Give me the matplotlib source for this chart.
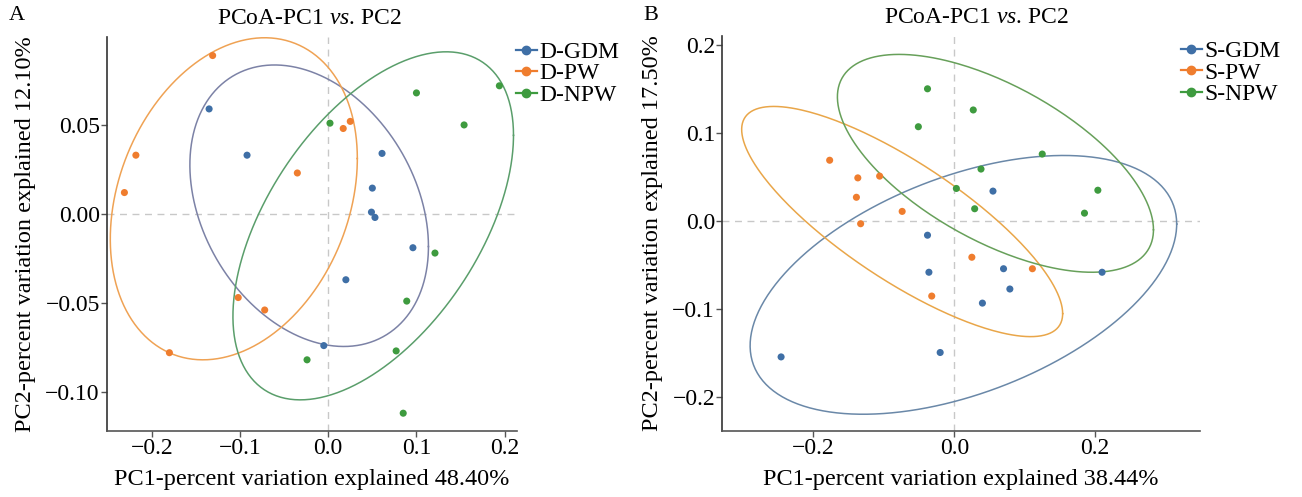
import numpy as np
import matplotlib.pyplot as plt
from matplotlib.lines import Line2D

plt.rcParams['font.family'] = 'Liberation Serif'
plt.rcParams['mathtext.fontset'] = 'custom'
plt.rcParams['mathtext.rm'] = 'Liberation Serif'
plt.rcParams['mathtext.it'] = 'Liberation Serif:italic'

# PCoA coordinates, panel A
d_gdm_x = [-0.135, -0.092, 0.061, 0.050, 0.049, 0.053, 0.096, 0.020, -0.005]
d_gdm_y = [0.059, 0.033, 0.034, 0.0145, 0.001, -0.002, -0.019, -0.037, -0.074]
d_pw_x = [-0.131, -0.218, -0.231, -0.035, 0.017, 0.025, -0.102, -0.072, -0.180]
d_pw_y = [0.089, 0.033, 0.012, 0.023, 0.048, 0.052, -0.047, -0.054, -0.078]
d_npw_x = [0.002, 0.100, 0.194, 0.154, 0.121, 0.089, 0.077, -0.024, 0.085]
d_npw_y = [0.051, 0.068, 0.072, 0.050, -0.022, -0.049, -0.077, -0.082, -0.112]

# PCoA coordinates, panel B
s_gdm_x = [0.055, -0.038, -0.036, 0.070, 0.079, 0.040, 0.210, -0.246, -0.020]
s_gdm_y = [0.034, -0.016, -0.058, -0.054, -0.077, -0.093, -0.058, -0.154, -0.149]
s_pw_x = [-0.177, -0.137, -0.106, -0.139, -0.074, -0.133, 0.025, 0.111, -0.032]
s_pw_y = [0.069, 0.049, 0.051, 0.027, 0.011, -0.003, -0.041, -0.054, -0.085]
s_npw_x = [-0.038, 0.027, -0.051, 0.125, 0.038, 0.003, 0.029, 0.204, 0.185]
s_npw_y = [0.150, 0.126, 0.107, 0.076, 0.059, 0.037, 0.014, 0.035, 0.009]

# group ellipses: centre, half-width, half-height, tilt (as correlation)
# order: GDM, PW, NPW
ell_a_cx = [-0.0216, -0.107, 0.051]
ell_a_cy = [0.0046, 0.0085, -0.0067]
ell_a_hx = [0.1352, 0.140, 0.159]
ell_a_hy = [0.0791, 0.0905, 0.0978]
ell_a_r = [-0.29, 0.25, 0.52]

ell_b_cx = [0.013, -0.074, 0.0585]
ell_b_cy = [-0.0723, -0.0005, 0.0655]
ell_b_hx = [0.303, 0.228, 0.2245]
ell_b_hy = [0.1467, 0.1305, 0.1235]
ell_b_r = [0.47, -0.80, -0.61]

pc1_a, pc2_a = 48.40, 12.10
pc1_b, pc2_b = 38.44, 17.50

point_cols = ['#3F6FA6', '#EF7D2E', '#3E9B3F']
ell_cols_a = ['#7C82A6', '#EFA254', '#5A9E6B']
ell_cols_b = ['#6A88A8', '#E9A649', '#67A05A']

FS = 17
t = np.linspace(0, 2 * np.pi, 300)


def outline(cx, cy, hx, hy, r):
    ex = cx + hx * np.cos(t)
    ey = cy + hy * (r * np.cos(t) + np.sqrt(1 - r ** 2) * np.sin(t))
    return ex, ey


def panel(ax, groups, outlines, labels, ell_cols, xlim, ylim, xticks, yticks, yfmt,
          xlab, ylab, leg_x, title_x):
    ax.axhline(0, color='#C8C8C8', lw=1.0, ls=(0, (5, 4)), zorder=0)
    ax.axvline(0, color='#C8C8C8', lw=1.0, ls=(0, (5, 4)), zorder=0)
    for (ex, ey), ec in zip(outlines, ell_cols):
        ax.plot(ex, ey, color=ec, lw=1.1, zorder=1, clip_on=False)
    for (gx, gy), pc in zip(groups, point_cols):
        ax.scatter(gx, gy, s=26, color=pc, edgecolors='none', zorder=3)
    ax.set_xlim(*xlim)
    ax.set_ylim(*ylim)
    ax.set_xticks(xticks)
    ax.set_yticks(yticks)
    ax.set_xticklabels([f'{v:.1f}'.replace('-', '\u2212') for v in xticks])
    ax.set_yticklabels([yfmt.format(v).replace('-', '\u2212') for v in yticks])
    for s in ['top', 'right']:
        ax.spines[s].set_visible(False)
    ax.spines['left'].set_color('#333333')
    ax.spines['bottom'].set_color('#555555')
    ax.spines['left'].set_linewidth(1.2)
    ax.spines['bottom'].set_linewidth(1.2)
    ax.tick_params(direction='out', length=4, width=1, color='#555555', labelsize=FS, pad=1)
    ax.set_xlabel(xlab, fontsize=17.5, labelpad=7)
    ax.set_ylabel(ylab, fontsize=17.5, labelpad=7)
    ax.set_title(r'PCoA-PC1 $\it{vs}$. PC2', fontsize=FS, pad=9, x=title_x)
    handles = [Line2D([0], [0], color=c, marker='o', markersize=6, lw=1.6) for c in point_cols]
    ax.legend(handles, labels, loc='upper left', bbox_to_anchor=(leg_x, 1.0), frameon=False,
              fontsize=FS, handlelength=0.9, handletextpad=0.1, labelspacing=0.0,
              borderaxespad=0, borderpad=0.2)


fig = plt.figure(figsize=(13.02, 4.97), dpi=100)
ax_a = fig.add_axes([0.0820, 0.1328, 0.3151, 0.7934])
ax_b = fig.add_axes([0.5545, 0.1328, 0.3671, 0.7950])

groups_a = [(d_gdm_x, d_gdm_y), (d_pw_x, d_pw_y), (d_npw_x, d_npw_y)]
outlines_a = [outline(*p) for p in zip(ell_a_cx, ell_a_cy, ell_a_hx, ell_a_hy, ell_a_r)]
panel(ax_a, groups_a, outlines_a, ['D-GDM', 'D-PW', 'D-NPW'], ell_cols_a,
      (-0.251, 0.214), (-0.122, 0.0996),
      [-0.2, -0.1, 0.0, 0.1, 0.2], [-0.10, -0.05, 0.0, 0.05], '{:.2f}',
      f'PC1-percent variation explained {pc1_a:.2f}%',
      f'PC2-percent variation explained {pc2_a:.2f}%', 0.985, 0.495)

groups_b = [(s_gdm_x, s_gdm_y), (s_pw_x, s_pw_y), (s_npw_x, s_npw_y)]
outlines_b = [outline(*p) for p in zip(ell_b_cx, ell_b_cy, ell_b_hx, ell_b_hy, ell_b_r)]
panel(ax_b, groups_b, outlines_b, ['S-GDM', 'S-PW', 'S-NPW'], ell_cols_b,
      (-0.33, 0.349), (-0.238, 0.21),
      [-0.2, 0.0, 0.2], [-0.2, -0.1, 0.0, 0.1, 0.2], '{:.1f}',
      f'PC1-percent variation explained {pc1_b:.2f}%',
      f'PC2-percent variation explained {pc2_b:.2f}%', 0.95, 0.533)

fig.text(0.007, 0.968, 'A', fontsize=16, va='center')
fig.text(0.494, 0.968, 'B', fontsize=16, va='center')

fig.savefig('out.png', dpi=100)
